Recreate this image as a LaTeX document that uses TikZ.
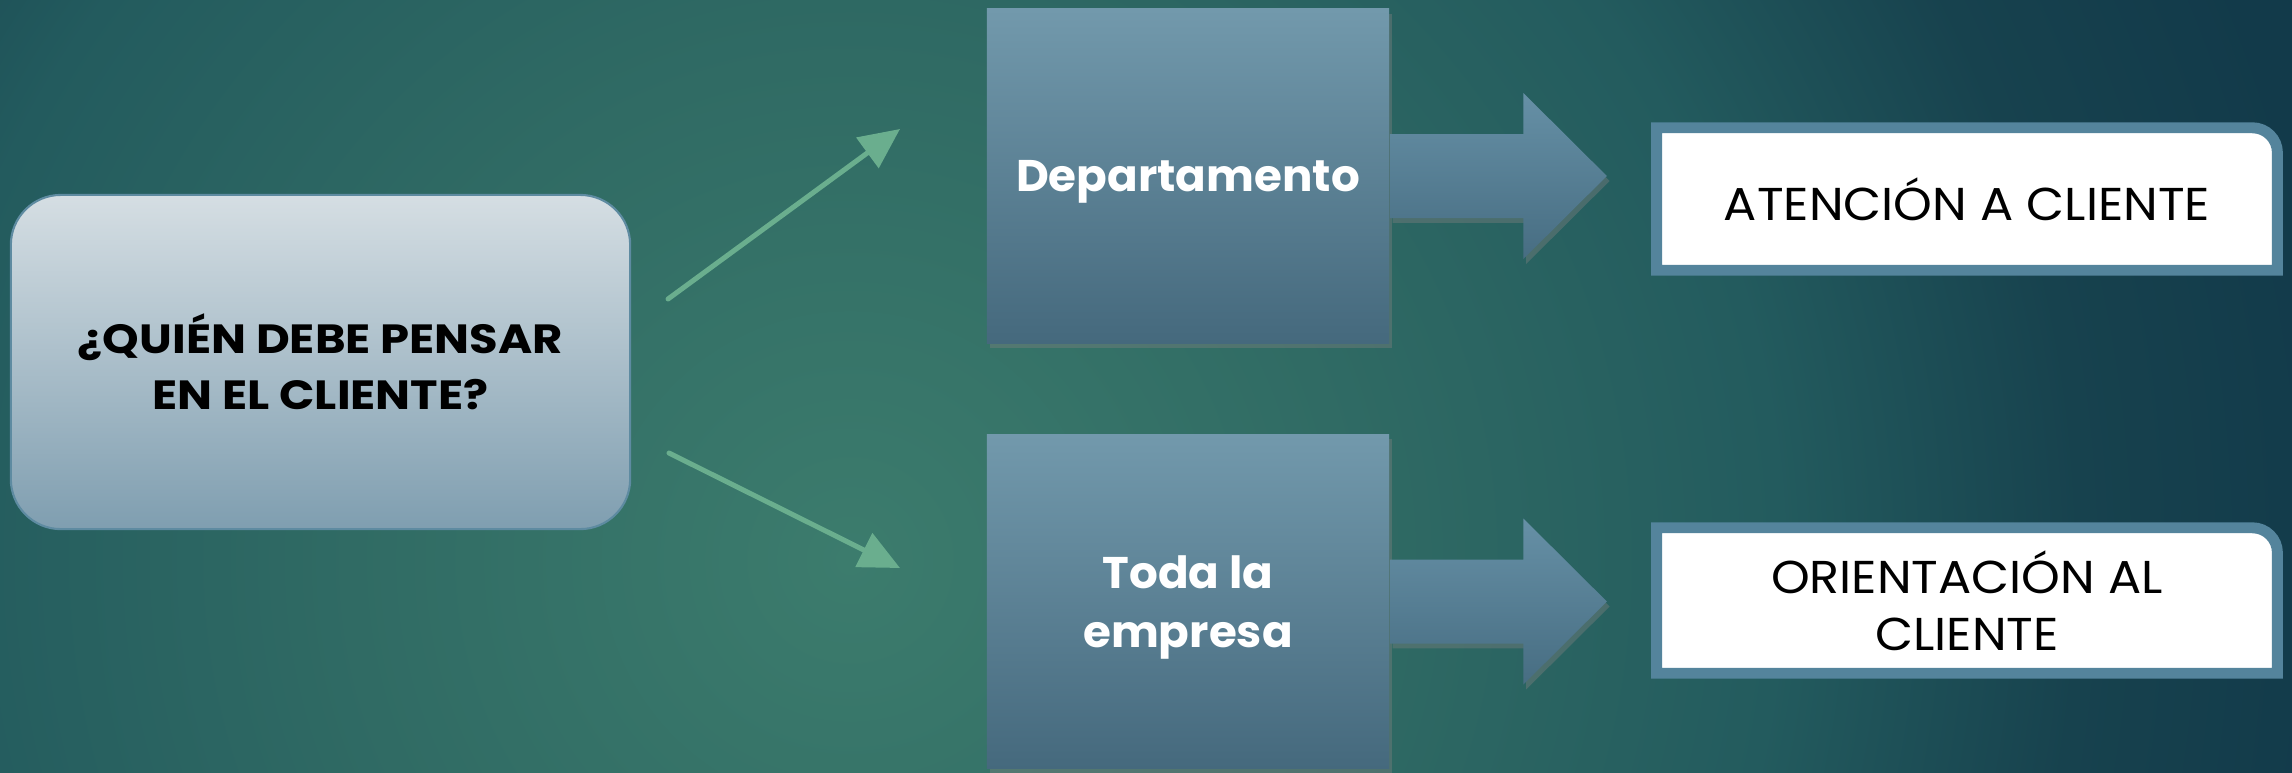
\documentclass[tikz,border=0pt]{standalone}
\usepackage{fontspec}
\setmainfont{Poppins}
\newfontfamily\qfont{Poppins}[FakeStretch=1.14]
\newfontfamily\sqfont{Poppins}[FakeStretch=1.02]
\newfontfamily\tgfont{Poppins}[FakeStretch=1.07]
\usetikzlibrary{arrows.meta,shadows,calc,backgrounds}

\definecolor{bgA}{HTML}{3C7C6D}
\definecolor{bgB}{HTML}{306B64}
\definecolor{bgC}{HTML}{235B5E}
\definecolor{bgD}{HTML}{17424E}
\definecolor{bgE}{HTML}{123A4A}
\definecolor{qtop}{HTML}{D5DEE3}
\definecolor{qbot}{HTML}{7F9EB0}
\definecolor{qline}{HTML}{5E8BA1}
\definecolor{sqtop}{HTML}{7299AC}
\definecolor{sqbot}{HTML}{45697D}
\definecolor{artop}{HTML}{6690A6}
\definecolor{arbot}{HTML}{476D82}
\definecolor{wline}{HTML}{54849C}
\definecolor{gline}{HTML}{6AAE8E}

\pgfdeclareradialshading{bgglow}{\pgfpoint{0bp}{0bp}}{color(0bp)=(bgA); color(8.3bp)=(bgB);
  color(15.5bp)=(bgC); color(20.5bp)=(bgD); color(25bp)=(bgE); color(50bp)=(bgE)}

\tikzset{
  question/.style={rounded corners=0.5cm, draw=qline, line width=0.6pt,
    top color=qtop, bottom color=qbot, minimum width=6.19cm, minimum height=3.34cm,
    align=center, font=\qfont\bfseries\fontsize{11.6pt}{15.9pt}\selectfont},
  square/.style={top color=sqtop, bottom color=sqbot, minimum width=4.02cm, minimum height=3.34cm,
    text depth=0pt, align=center, text=white, font=\sqfont\bfseries\fontsize{12.6pt}{16.8pt}\selectfont,
    drop shadow={shadow xshift=0.8pt, shadow yshift=-1.4pt, opacity=0.4}},
  blockarrow/.style={top color=artop, bottom color=arbot,
    drop shadow={shadow xshift=0.8pt, shadow yshift=-1.4pt, opacity=0.4}},
  target/.style={minimum width=6.19cm, inner sep=0pt,
    align=center, font=\tgfont\fontsize{13.1pt}{16.2pt}\selectfont},
  targetframe/.style={draw=wline, fill=white, line width=3.1pt},
  link/.style={draw=gline, line width=1.42pt, line cap=round, -{Triangle[length=11.5pt,width=10.5pt]}}
}

\begin{document}
\begin{tikzpicture}[x=0.01cm,y=0.01cm]
  \useasboundingbox (0,0) rectangle (2292,-772);
  % fondo
  \begin{scope}[on background layer]
    \fill[bgE] (0,0) rectangle (2292,-772);
    \clip (0,0) rectangle (2292,-772);
    \shade[shading=bgglow] (850,-560) circle[radius=1500];
  \end{scope}

  \node[question] (q) at (320.5,-362) {¿QUIÉN DEBE PENSAR\\EN EL CLIENTE?};

  \node[square] (dep) at (1188,-176) {Departamento};
  \node[square] (toda) at (1188,-601.5) {Toda la\\empresa};

  \path[blockarrow] ($(dep.east)+(0,42)$) -- ++(133.5,0) -- ++(0,41) -- ($(dep.east)+(217,0)$)
    -- ++(-83.5,-83) -- ++(0,41) -- ($(dep.east)+(0,-42)$) -- cycle;
  \path[blockarrow] ($(toda.east)+(0,42)$) -- ++(133.5,0) -- ++(0,41) -- ($(toda.east)+(217,0)$)
    -- ++(-83.5,-83) -- ++(0,41) -- ($(toda.east)+(0,-42)$) -- cycle;

  \node[target, minimum height=1.41cm] (atc) at (1967,-199) {ATENCIÓN A CLIENTE};
  \node[target, minimum height=1.44cm] (ori) at (1967,-600.5) {ORIENTACIÓN AL\\CLIENTE};
  \begin{scope}[on background layer]
    \filldraw[targetframe] (atc.south west) -- (atc.north west) -- ($(atc.north east)+(-25,0)$)
      arc[start angle=90, end angle=0, radius=25] -- (atc.south east) -- cycle;
    \filldraw[targetframe] (ori.south west) -- (ori.north west) -- ($(ori.north east)+(-25,0)$)
      arc[start angle=90, end angle=0, radius=25] -- (ori.south east) -- cycle;
  \end{scope}

  \coordinate (up0) at (668,-299);
  \coordinate (up1) at (900,-129);
  \coordinate (dn0) at (669,-453);
  \coordinate (dn1) at (900,-568);
  \draw[link] (up0) -- (up1);
  \draw[link] (dn0) -- (dn1);
\end{tikzpicture}
\end{document}
